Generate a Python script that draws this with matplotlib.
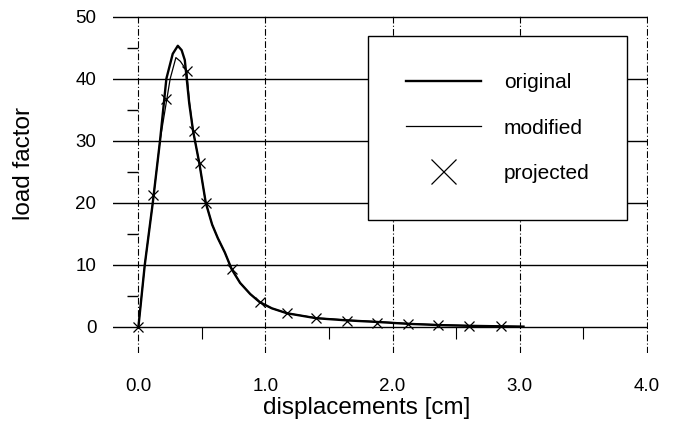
import numpy as np
import matplotlib.pyplot as plt

plt.rcParams['font.family'] = ['Liberation Sans', 'DejaVu Sans']

# original curve (thick)
orig_x = [0.0, 0.05, 0.113, 0.17, 0.22, 0.27, 0.31, 0.34, 0.365, 0.38, 0.40, 0.43,
          0.48, 0.53, 0.58, 0.625, 0.68, 0.734, 0.80, 0.88, 0.954, 1.05, 1.17, 1.40,
          1.645, 1.88, 2.12, 2.36, 2.60, 2.85, 3.03]
orig_y = [0.0, 10.0, 20.0, 30.0, 40.0, 44.0, 45.3, 44.6, 43.0, 40.0, 36.0, 31.6,
          26.3, 20.0, 16.5, 14.3, 12.0, 9.3, 7.1, 5.3, 4.0, 3.0, 2.2, 1.4,
          1.05, 0.8, 0.5, 0.3, 0.18, 0.1, 0.05]

# modified curve (thin)
mod_x = [0.0, 0.05, 0.113, 0.17, 0.25, 0.295, 0.33, 0.35, 0.38, 0.40, 0.43,
         0.48, 0.53, 0.58, 0.625, 0.68, 0.734, 0.80, 0.88, 0.954, 1.05, 1.17, 1.40,
         1.645, 1.88, 2.12, 2.36, 2.60, 2.85, 3.03]
mod_y = [0.0, 10.0, 20.0, 30.0, 40.0, 43.4, 42.8, 42.2, 41.3, 36.5, 31.6,
         26.3, 20.0, 16.5, 14.3, 12.0, 9.3, 7.1, 5.3, 4.0, 3.0, 2.2, 1.45,
         1.1, 0.85, 0.55, 0.35, 0.22, 0.12, 0.05]

# projected points
proj_x = [0.0, 0.115, 0.217, 0.38, 0.436, 0.483, 0.53, 0.734, 0.954, 1.17, 1.40,
          1.645, 1.88, 2.12, 2.36, 2.60, 2.85]
proj_y = [0.0, 21.2, 36.8, 41.3, 31.5, 26.4, 19.9, 9.3, 4.0, 2.25, 1.45,
          0.9, 0.65, 0.4, 0.25, 0.15, 0.1]

x_ticks = [0, 1, 2, 3, 4]
x_labels = ["0.0", "1.0", "2.0", "3.0", "4.0"]
y_ticks = [0, 10, 20, 30, 40, 50]
x_minor = [0.5, 1.5, 2.5, 3.5]
y_minor = [5, 15, 25, 35, 45]

fig = plt.figure(figsize=(6.75, 4.29), dpi=100)
ax = fig.add_axes([113 / 675, 1 - 353 / 429, 535 / 675, 337 / 429])

# grid
for xv in x_ticks:
    ax.axvline(xv, color="black", lw=0.8, ls=(0, (6, 2, 1, 2)), zorder=1)
for yv in y_ticks:
    ax.axhline(yv, color="black", lw=1.0, zorder=1)
ax.vlines(x_minor, -2.0, 0, color="black", lw=0.8, zorder=1)
ax.hlines(y_minor, -0.09, 0, color="black", lw=1.0, zorder=1)

ax.plot(orig_x, orig_y, color="black", lw=1.7, label="original", zorder=3)
ax.plot(mod_x, mod_y, color="black", lw=0.9, label="modified", zorder=3)
ax.plot(proj_x, proj_y, ls="none", marker="x", ms=7.5, mew=0.9, color="black",
        label="projected", zorder=4)

ax.set_xlim(-0.2, 4.01)
ax.set_ylim(-4.2, 50.1)
ax.set_xticks(x_ticks)
ax.set_xticklabels(x_labels)
ax.set_yticks(y_ticks)
ax.tick_params(length=0, labelsize=13.5)
ax.tick_params(axis="y", pad=12)
ax.tick_params(axis="x", pad=18)
for s in ax.spines.values():
    s.set_visible(False)

fig.text(367 / 675, 1 - 408 / 429, "displacements [cm]", fontsize=17.5,
         ha="center", va="center")
fig.text(24 / 675, 1 - 163 / 429, "load factor", fontsize=17.5, rotation=90,
         ha="center", va="center")

leg = ax.legend(loc="upper right", bbox_to_anchor=(627 / 675, 1 - 36 / 429),
                bbox_transform=fig.transFigure, borderaxespad=0, fontsize=15,
                handlelength=3.6, handletextpad=1.1, labelspacing=1.25,
                borderpad=1.8, markerscale=2.4, fancybox=False, framealpha=1,
                edgecolor="black")
leg.get_frame().set_linewidth(1.0)

fig.savefig("out.png", dpi=100)
